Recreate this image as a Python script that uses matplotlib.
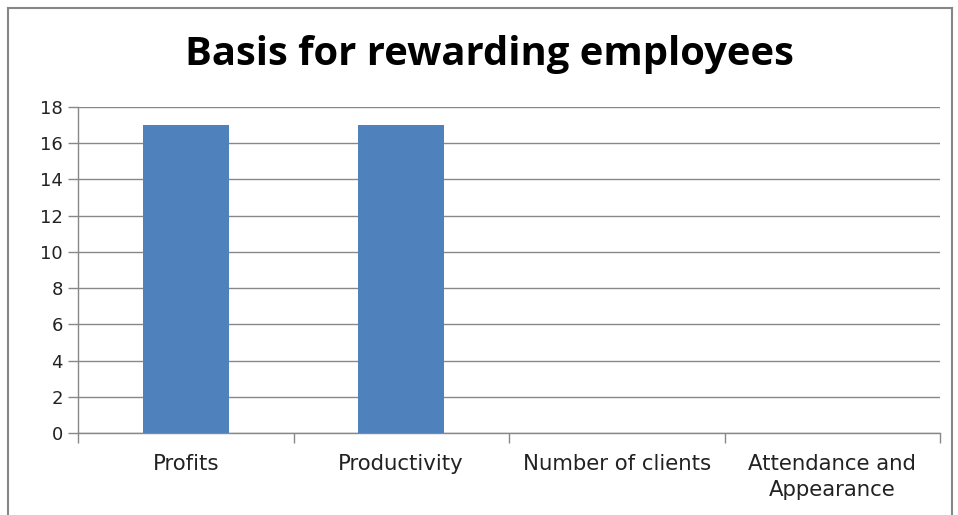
import matplotlib.pyplot as plt
from matplotlib.lines import Line2D
import numpy as np

categorias = ['Profits', 'Productivity', 'Number of clients', 'Attendance and\nAppearance']
valores = [17, 17, 0, 0]
y_ticks = [0, 2, 4, 6, 8, 10, 12, 14, 16, 18]

fig = plt.figure(figsize=(9.58, 5.15), dpi=100)
ax = fig.add_axes([78/958, 82/515, 862/958, 326/515])

x = np.arange(len(categorias))
ax.bar(x, valores, width=0.4, color='#4F81BD', zorder=3)

ax.set_xlim(-0.5, len(categorias) - 0.5)
ax.set_ylim(0, 18)
ax.set_yticks(y_ticks)
ax.yaxis.grid(True, color='#888888', linewidth=1, zorder=0)

# ticks do eixo x nas divisas das categorias, rotulos no meio
ax.set_xticks(np.arange(len(categorias) + 1) - 0.5)
ax.set_xticklabels([])
ax.set_xticks(x, minor=True)
ax.set_xticklabels(categorias, minor=True, fontsize=15.3, color='#222222', linespacing=1.4)
ax.tick_params(axis='x', which='minor', length=0, pad=15)
ax.tick_params(axis='x', which='major', length=7, color='#888888', width=1)
ax.tick_params(axis='y', length=7, color='#888888', width=1, labelsize=13, labelcolor='#222222', pad=4)

for s in ['top', 'right']:
    ax.spines[s].set_visible(False)
for s in ['left', 'bottom']:
    ax.spines[s].set_color('#888888')
    ax.spines[s].set_linewidth(1)

fig.text(489/958, 1 - 55/515, 'Basis for rewarding employees', ha='center', va='center',
         fontsize=28.8, fontweight='bold', family='Open Sans')

# moldura
fig.add_artist(Line2D([8/958, 8/958], [0, 1 - 8/515], color='#868686', linewidth=1.5, transform=fig.transFigure))
fig.add_artist(Line2D([8/958, 952/958], [1 - 8/515, 1 - 8/515], color='#868686', linewidth=1.5, transform=fig.transFigure))
fig.add_artist(Line2D([952/958, 952/958], [0, 1 - 8/515], color='#868686', linewidth=1.5, transform=fig.transFigure))

fig.savefig('out.png', dpi=100)
